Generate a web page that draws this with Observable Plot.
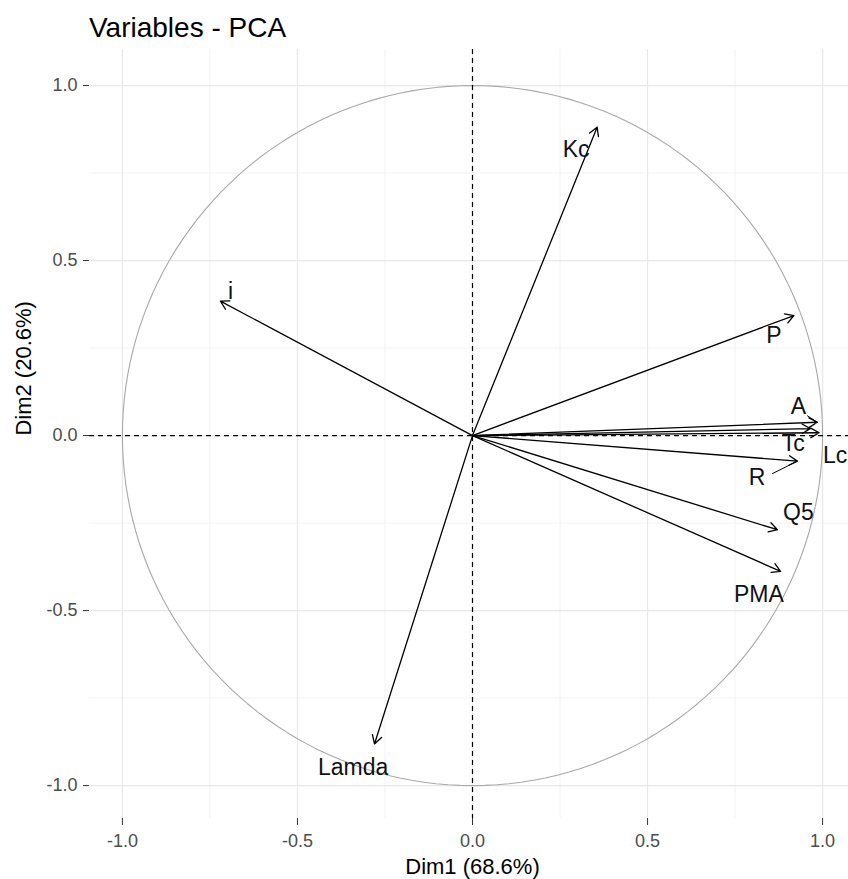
<!DOCTYPE html>
<html>
<head>
<meta charset="utf-8">
<script src="https://cdn.jsdelivr.net/npm/d3@7"></script>
<script src="https://cdn.jsdelivr.net/npm/@observablehq/plot@0.6"></script>
<style>
  html, body { margin: 0; padding: 0; background: #fff; }
  body { width: 848px; height: 879px; overflow: hidden; font-family: "Liberation Sans", Arial, sans-serif; }
  #title { position: relative; height: 49px; }
  #title span { position: absolute; left: 89px; top: 14px; font-size: 28px; line-height: 1; color: #000; white-space: nowrap; }
  #chart svg { display: block; }
</style>
</head>
<body>
<div id="title"><span>Variables - PCA</span></div>
<div id="chart"></div>
<script>
// ---- data ----
const variables = ["Kc", "i", "P", "A", "Tc", "Lc", "R", "Q5", "PMA", "Lamda"];
const dim1 = [0.356, -0.720, 0.918, 0.985, 0.965, 0.990, 0.928, 0.871, 0.880, -0.280];
const dim2 = [0.881, 0.384, 0.343, 0.038, 0.020, 0.008, -0.073, -0.269, -0.388, -0.881];
// repelled label positions (data units)
const labelDim1 = [0.296, -0.691, 0.861, 0.931, 0.916, 1.036, 0.813, 0.931, 0.818, -0.341];
const labelDim2 = [0.816, 0.411, 0.285, 0.083, -0.023, -0.057, -0.121, -0.221, -0.454, -0.950];
// repel connector segments (label side start)
const connectorVars = ["A", "R"];
const connectorDim1 = [0.956, 0.856];
const connectorDim2 = [0.057, -0.109];

const majorTicks = [-1, -0.5, 0, 0.5, 1];
const minorTicks = [-0.75, -0.25, 0.25, 0.75];
const tickLabels = ["-1.0", "-0.5", "0.0", "0.5", "1.0"];
const xTitle = "Dim1 (68.6%)";
const yTitle = "Dim2 (20.6%)";

// ---- build tables ----
const vars = variables.map((v, i) => ({
  name: v, x: dim1[i], y: dim2[i], lx: labelDim1[i], ly: labelDim2[i]
}));
const connectors = connectorVars.map((v, i) => {
  const k = variables.indexOf(v);
  return { x1: connectorDim1[i], y1: connectorDim2[i], x2: dim1[k], y2: dim2[k] };
});
const circle = d3.range(0, 361, 2).map(a => ({
  x: Math.cos(a * Math.PI / 180), y: Math.sin(a * Math.PI / 180)
}));
const fmt = new Map(majorTicks.map((t, i) => [t, tickLabels[i]]));

const font = '"Liberation Sans", Arial, sans-serif';

const chart = Plot.plot({
  width: 848,
  height: 830,
  marginTop: 0,
  marginRight: 0,
  marginBottom: 61,
  marginLeft: 89,
  style: { fontFamily: font, background: "white", overflow: "visible" },
  x: { domain: [-1.094, 1.074] },
  y: { domain: [-1.094, 1.103] },
  marks: [
    Plot.gridX(minorTicks, { stroke: "#f2f2f2", strokeOpacity: 1, strokeWidth: 1 }),
    Plot.gridY(minorTicks, { stroke: "#f2f2f2", strokeOpacity: 1, strokeWidth: 1 }),
    Plot.gridX(majorTicks, { stroke: "#e8e8e8", strokeOpacity: 1, strokeWidth: 1.2 }),
    Plot.gridY(majorTicks, { stroke: "#e8e8e8", strokeOpacity: 1, strokeWidth: 1.2 }),
    Plot.axisX(majorTicks, {
      tickFormat: d => fmt.get(d), tickSize: 7, tickPadding: 9, fontSize: 18,
      stroke: "#333", fill: "#4d4d4d", label: null
    }),
    Plot.axisY(majorTicks, {
      tickFormat: d => fmt.get(d), tickSize: 6, tickPadding: 6, fontSize: 18,
      stroke: "#333", fill: "#4d4d4d", label: null
    }),
    Plot.line(circle, { x: "x", y: "y", stroke: "#a9a9a9", strokeWidth: 1.1 }),
    Plot.ruleX([0], { stroke: "#000", strokeDasharray: "5,4", strokeWidth: 1.2 }),
    Plot.ruleY([0], { stroke: "#000", strokeDasharray: "5,4", strokeWidth: 1.2 }),
    Plot.arrow(vars, {
      x1: () => 0, y1: () => 0, x2: "x", y2: "y",
      stroke: "#000", strokeWidth: 1.3, headLength: 11, headAngle: 60
    }),
    Plot.link(connectors, { x1: "x1", y1: "y1", x2: "x2", y2: "y2", stroke: "#000", strokeWidth: 1 }),
    Plot.text(vars, {
      x: "lx", y: "ly", text: "name", fontSize: 23, fill: "#111",
      textAnchor: "middle", lineAnchor: "middle"
    }),
    Plot.text([xTitle], {
      x: () => 0, frameAnchor: "bottom", text: d => d, dy: 48,
      fontSize: 22, fill: "#000", lineAnchor: "middle"
    }),
    Plot.text([yTitle], {
      y: () => 0, frameAnchor: "left", text: d => d, dx: -66, rotate: -90,
      fontSize: 22, fill: "#000", lineAnchor: "middle"
    })
  ]
});
document.getElementById("chart").appendChild(chart);
</script>
</body>
</html>
